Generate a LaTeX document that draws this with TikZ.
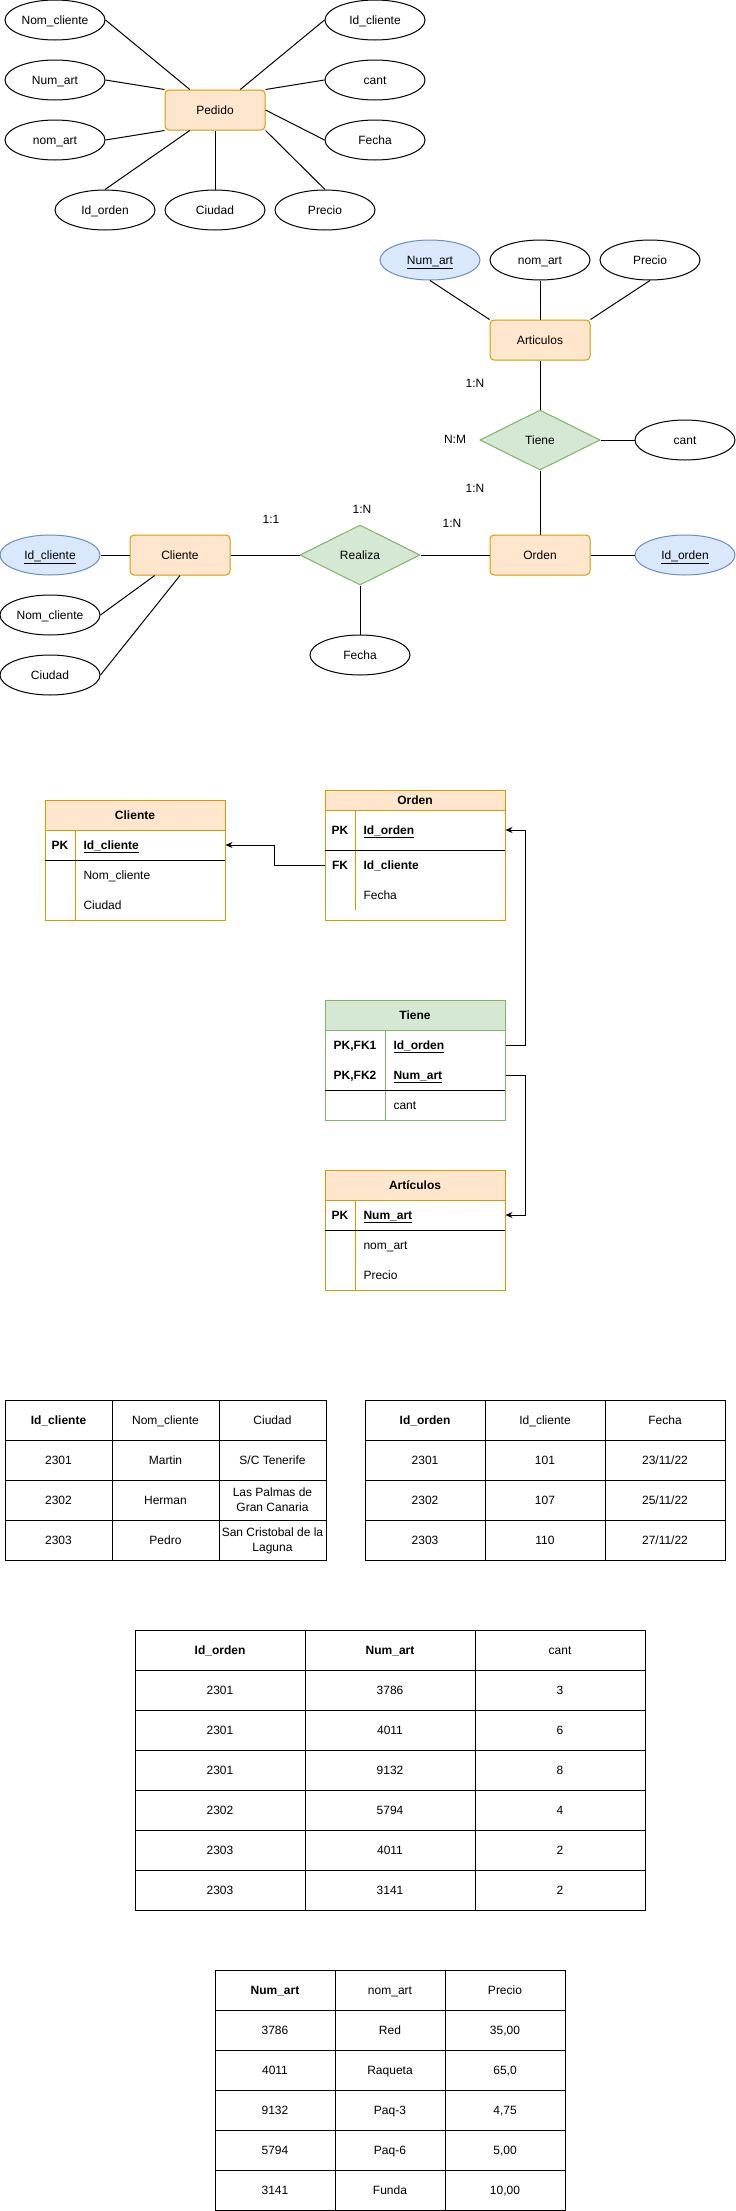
\documentclass[tikz,border=0pt]{standalone}
\usepackage{fontspec}
\setmainfont{Liberation Sans}
\usetikzlibrary{shapes.geometric,arrows.meta,calc}
\definecolor{entfill}{HTML}{FFE6CC}
\definecolor{entdraw}{HTML}{D79B00}
\definecolor{keyfill}{HTML}{DAE8FC}
\definecolor{keydraw}{HTML}{6C8EBF}
\definecolor{relfill}{HTML}{D5E8D4}
\definecolor{reldraw}{HTML}{82B366}
\newcommand{\mytc}[5]{\node[tcell, minimum width=#4] (#1) at (#2,#3) {#5};}
\begin{document}
\begin{tikzpicture}[x=1pt,y=-1pt,line width=1pt,
  base/.style={font=\fontsize{12}{14}\selectfont, text=black, text height=8.5, text depth=0},
  bbase/.style={font=\fontsize{12}{14}\selectfont\bfseries, text=black, text height=8.5, text depth=0},
  attr/.style={base, ellipse, draw=black, fill=white, minimum width=100, minimum height=40, inner sep=0},
  keyattr/.style={attr, fill=keyfill, draw=keydraw},
  ent/.style={base, rectangle, rounded corners=4, draw=entdraw, fill=entfill, minimum width=100, minimum height=40, inner sep=0},
  rel/.style={base, diamond, aspect=2, draw=reldraw, fill=relfill, minimum width=120, minimum height=60, inner sep=0},
  lbl/.style={base, inner sep=0},
  conn/.style={draw=black},
  fk/.style={draw=black, -{Stealth[length=7pt,width=6pt]}},
  rowk/.style={bbase, inner sep=0},
  rowt/.style={base, inner sep=0, anchor=west},
  rowtb/.style={bbase, inner sep=0, anchor=west},
  tcell/.style={base, draw=black, minimum height=40, inner sep=0, align=center},
  tcellb/.style={tcell, bbase},
  twoline/.style={font=\fontsize{12}{15}\selectfont, text height=23.5, text depth=0}
]
\fill[white] (0,0) rectangle (736,2211);
\useasboundingbox (0,0) rectangle (736,2211);

% ---------- Pedido ----------
\node[ent] (ped) at (215,110) {Pedido};
\node[attr] (pnc) at (55,20) {Nom\_cliente};
\node[attr] (pna) at (55,80) {Num\_art};
\node[attr] (pnom) at (55,140) {nom\_art};
\node[attr] (pido) at (105,210) {Id\_orden};
\node[attr] (pciu) at (215,210) {Ciudad};
\node[attr] (ppre) at (325,210) {Precio};
\node[attr] (pidc) at (375,20) {Id\_cliente};
\node[attr] (pcant) at (375,80) {cant};
\node[attr] (pfec) at (375,140) {Fecha};
\draw[conn] (pnc.east) -- ($(ped.north west)!0.25!(ped.north east)$);
\draw[conn] (pna.east) -- (ped.north west);
\draw[conn] (pnom.east) -- (ped.south west);
\draw[conn] (pido.north) -- ($(ped.south west)!0.25!(ped.south east)$);
\draw[conn] (pciu.north) -- (ped.south);
\draw[conn] (ppre.north) -- (ped.south east);
\draw[conn] (pidc.west) -- ($(ped.north west)!0.75!(ped.north east)$);
\draw[conn] (pcant.west) -- (ped.north east);
\draw[conn] (pfec.west) -- (ped.east);

% ---------- ER ----------
\node[keyattr] (enuma) at (430,260) {\underline{Num\_art}};
\node[attr] (enoma) at (540,260) {nom\_art};
\node[attr] (epre) at (650,260) {Precio};
\node[ent] (eart) at (540,340) {Articulos};
\node[rel] (etie) at (540,440) {Tiene};
\node[attr] (ecant) at (685,440) {cant};
\node[ent] (eord) at (540,555) {Orden};
\node[keyattr] (eidor) at (685,555) {\underline{Id\_orden}};
\node[rel] (ereal) at (360,555) {Realiza};
\node[attr] (efec) at (360,655) {Fecha};
\node[ent] (ecli) at (180,555) {Cliente};
\node[keyattr] (eidcl) at (50,555) {\underline{Id\_cliente}};
\node[attr] (enomc) at (50,615) {Nom\_cliente};
\node[attr] (eciu) at (50,675) {Ciudad};
\draw[conn] (enuma.south) -- (eart.north west);
\draw[conn] (enoma.south) -- (eart.north);
\draw[conn] (epre.south) -- (eart.north east);
\draw[conn] (eart.south) -- (etie.north);
\draw[conn] (etie.east) -- (ecant.west);
\draw[conn] (etie.south) -- (eord.north);
\draw[conn] (eidcl.east) -- (ecli.west);
\draw[conn] (ecli.east) -- (ereal.west);
\draw[conn] (ereal.east) -- (eord.west);
\draw[conn] (eord.east) -- (eidor.west);
\draw[conn] (ereal.south) -- (efec.north);
\draw[conn] (enomc.east) -- ($(ecli.south west)!0.25!(ecli.south east)$);
\draw[conn] (eciu.east) -- (ecli.south);
\node[lbl] (l1) at (475,383) {1:N};
\node[lbl] (l2) at (455,439) {N:M};
\node[lbl] (l3) at (475,488) {1:N};
\node[lbl] (l4) at (271,519) {1:1};
\node[lbl] (l5) at (362,509) {1:N};
\node[lbl] (l6) at (452,523) {1:N};

% ---------- Relational schema ----------
% Cliente
\node[draw=entdraw, minimum width=180, minimum height=90, inner sep=0] (cliB) at (135,875) {};
\node[bbase, draw=entdraw, fill=entfill, minimum width=180, minimum height=30, inner sep=0] (cliH) at (135,815) {Cliente};
\draw[entdraw] (75,830) -- (75,920);
\draw[black] (45,860) -- (225,860);
\node[rowk] (cliPKk) at (60,845) {PK};
\node[rowtb] (cliPK) at (83,845) {\underline{Id\_cliente}};
\node[rowt] (cliR2) at (83,875) {Nom\_cliente};
\node[rowt] (cliR3) at (83,905) {Ciudad};

% Orden
\node[draw=entdraw, minimum width=180, minimum height=110, inner sep=0] (ordB) at (415,865) {};
\node[bbase, draw=entdraw, fill=entfill, minimum width=180, minimum height=20, inner sep=0] (ordH) at (415,800) {Orden};
\draw[entdraw] (355,810) -- (355,910);
\draw[black] (325,850) -- (505,850);
\node[rowk] (ordPKk) at (340,830) {PK};
\node[rowtb] (ordPK) at (363,830) {\underline{Id\_orden}};
\node[rowk] (ordFKk) at (340,865) {FK};
\node[rowtb] (ordFK) at (363,865) {Id\_cliente};
\node[rowt] (ordR3) at (363,895) {Fecha};

% Tiene
\node[draw=reldraw, minimum width=180, minimum height=90, inner sep=0] (tieB) at (415,1075) {};
\node[bbase, draw=reldraw, fill=relfill, minimum width=180, minimum height=30, inner sep=0] (tieH) at (415,1015) {Tiene};
\draw[reldraw] (385,1030) -- (385,1120);
\draw[black] (325,1090) -- (505,1090);
\node[rowk] (tieR1k) at (355,1045) {PK,FK1};
\node[rowtb] (tieR1) at (393,1045) {\underline{Id\_orden}};
\node[rowk] (tieR2k) at (355,1075) {PK,FK2};
\node[rowtb] (tieR2) at (393,1075) {\underline{Num\_art}};
\node[rowt] (tieR3) at (393,1105) {cant};

% Articulos
\node[draw=entdraw, minimum width=180, minimum height=90, inner sep=0] (artB) at (415,1245) {};
\node[bbase, draw=entdraw, fill=entfill, minimum width=180, minimum height=30, inner sep=0] (artH) at (415,1185) {Artículos};
\draw[entdraw] (355,1200) -- (355,1290);
\draw[black] (325,1230) -- (505,1230);
\node[rowk] (artPKk) at (340,1215) {PK};
\node[rowtb] (artPK) at (363,1215) {\underline{Num\_art}};
\node[rowt] (artR2) at (363,1245) {nom\_art};
\node[rowt] (artR3) at (363,1275) {Precio};

% FK arrows
\draw[fk] (ordB.west |- ordFK) -- ++(-50,0) |- (cliB.east |- cliPK);
\draw[fk] (tieB.east |- tieR1) -- ++(20,0) |- (ordB.east |- ordPK);
\draw[fk] (tieB.east |- tieR2) -- ++(20,0) |- (artB.east |- artPK);

% ---------- Data tables ----------
% Clientes
\node[tcellb, minimum width=107] (a11) at (58.5,1420) {Id\_cliente};
\mytc{a12}{165.5}{1420}{107}{Nom\_cliente}
\mytc{a13}{272.5}{1420}{107}{Ciudad}
\mytc{a21}{58.5}{1460}{107}{2301}
\mytc{a22}{165.5}{1460}{107}{Martin}
\mytc{a23}{272.5}{1460}{107}{S/C Tenerife}
\mytc{a31}{58.5}{1500}{107}{2302}
\mytc{a32}{165.5}{1500}{107}{Herman}
\node[tcell, twoline, minimum width=107] (a33) at (272.5,1500) {Las Palmas de\\Gran Canaria};
\mytc{a41}{58.5}{1540}{107}{2303}
\mytc{a42}{165.5}{1540}{107}{Pedro}
\node[tcell, twoline, minimum width=107] (a43) at (272.5,1540) {San Cristobal de la\\Laguna};

% Ordenes
\node[tcellb, minimum width=120] (b11) at (425,1420) {Id\_orden};
\mytc{b12}{545}{1420}{120}{Id\_cliente}
\mytc{b13}{665}{1420}{120}{Fecha}
\mytc{b21}{425}{1460}{120}{2301}
\mytc{b22}{545}{1460}{120}{101}
\mytc{b23}{665}{1460}{120}{23/11/22}
\mytc{b31}{425}{1500}{120}{2302}
\mytc{b32}{545}{1500}{120}{107}
\mytc{b33}{665}{1500}{120}{25/11/22}
\mytc{b41}{425}{1540}{120}{2303}
\mytc{b42}{545}{1540}{120}{110}
\mytc{b43}{665}{1540}{120}{27/11/22}

% Tiene data
\node[tcellb, minimum width=170] (c11) at (220,1650) {Id\_orden};
\node[tcellb, minimum width=170] (c12) at (390,1650) {Num\_art};
\mytc{c13}{560}{1650}{170}{cant}
\mytc{c21}{220}{1690}{170}{2301}
\mytc{c22}{390}{1690}{170}{3786}
\mytc{c23}{560}{1690}{170}{3}
\mytc{c31}{220}{1730}{170}{2301}
\mytc{c32}{390}{1730}{170}{4011}
\mytc{c33}{560}{1730}{170}{6}
\mytc{c41}{220}{1770}{170}{2301}
\mytc{c42}{390}{1770}{170}{9132}
\mytc{c43}{560}{1770}{170}{8}
\mytc{c51}{220}{1810}{170}{2302}
\mytc{c52}{390}{1810}{170}{5794}
\mytc{c53}{560}{1810}{170}{4}
\mytc{c61}{220}{1850}{170}{2303}
\mytc{c62}{390}{1850}{170}{4011}
\mytc{c63}{560}{1850}{170}{2}
\mytc{c71}{220}{1890}{170}{2303}
\mytc{c72}{390}{1890}{170}{3141}
\mytc{c73}{560}{1890}{170}{2}

% Articulos data
\node[tcellb, minimum width=120] (d11) at (275,1990) {Num\_art};
\mytc{d12}{390}{1990}{110}{nom\_art}
\mytc{d13}{505}{1990}{120}{Precio}
\mytc{d21}{275}{2030}{120}{3786}
\mytc{d22}{390}{2030}{110}{Red}
\mytc{d23}{505}{2030}{120}{35,00}
\mytc{d31}{275}{2070}{120}{4011}
\mytc{d32}{390}{2070}{110}{Raqueta}
\mytc{d33}{505}{2070}{120}{65,0}
\mytc{d41}{275}{2110}{120}{9132}
\mytc{d42}{390}{2110}{110}{Paq-3}
\mytc{d43}{505}{2110}{120}{4,75}
\mytc{d51}{275}{2150}{120}{5794}
\mytc{d52}{390}{2150}{110}{Paq-6}
\mytc{d53}{505}{2150}{120}{5,00}
\mytc{d61}{275}{2190}{120}{3141}
\mytc{d62}{390}{2190}{110}{Funda}
\mytc{d63}{505}{2190}{120}{10,00}
\end{tikzpicture}
\end{document}
